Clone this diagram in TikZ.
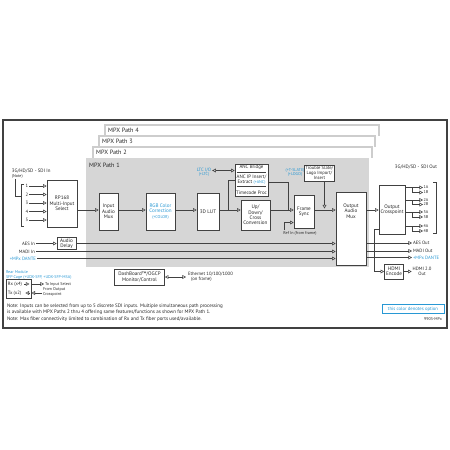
\documentclass[tikz,border=0pt]{standalone}
\usepackage{fontspec}
\setmainfont{PT Sans}
\usetikzlibrary{arrows.meta}
\usetikzlibrary{positioning}
\definecolor{Option}{RGB}{40,152,212}
\definecolor{Strich}{RGB}{65,65,65}
\definecolor{Pfad}{RGB}{214,214,214}
\definecolor{Reiter}{RGB}{205,205,205}
\newcommand\Groesse[2]{\fontsize{#1}{#2}\selectfont}
\tikzset{
  Spitze/.tip={Triangle[open,length=3.6pt,width=3.8pt]},
  Block/.style 2 args={draw=Strich, fill=white, line width=.65pt, inner sep=0pt,
    align=center, minimum width=#1pt, minimum height=#2pt, font=\Groesse{5.1}{5.4}},
  Pfeil/.style={draw=Strich, line width=.55pt, -Spitze}, % Signalpfeile
  DPfeil/.style={draw=Strich, line width=.55pt, Spitze-Spitze}, % beidseitig
  Leitung/.style={draw=Strich, line width=.55pt},
  Txt/.style={inner sep=.8pt, align=center, font=\Groesse{4.7}{5.2}},
  Opt/.style={Txt, text=Option}, % Optionen
  Klein/.style={font=\Groesse{4.1}{4.6}},
  Reiter/.style={draw=Reiter, line width=1.4pt},
  Titel/.style={inner sep=0pt, anchor=west, font=\Groesse{6.2}{7}}
}

\begin{document}
\begin{tikzpicture}[x=1pt, y=-1pt, text=black!85]
\useasboundingbox (0,0) rectangle (450,450);

%Rahmen
\draw[Strich, line width=1.4pt] (3,120) rectangle (447,328);

%MPX Pfade
\draw[Reiter] (105,136) |- (379,125) -- (379,136);
\draw[Reiter] (99,147) |- (375,136) -- (375,147);
\draw[Reiter] (93,158) |- (372,147) -- (372,158);
\fill[Pfad] (86,158) rectangle (369,267);
\node[Titel] (P4) at (108,130.5) {MPX Path 4};
\node[Titel] (P3) at (102,141.5) {MPX Path 3};
\node[Titel] (P2) at (96,152.5) {MPX Path 2};
\node[Titel] (P1) at (89,165) {MPX Path 1};

%Bloecke
\node[Block={30}{47}] (RP) at (62,203.5) {RP168\\Multi-Input\\Select};
\node[Block={19}{37}] (IM) at (108.5,211.5) {Input\\Audio\\Mux};
\node[Block={29}{37}, text=Option] (RGB) at (160.5,211.5) {RGB Color\\Correction\\{\Groesse{4.1}{5.2}(+COLOR)}};
\node[Block={22}{37}] (LUT) at (208,211.5) {3D LUT};
\node[Block={33}{32}] (ANC) at (251.5,180) {};
\node[Block={29}{30}] (UDC) at (255.5,215) {Up/\\Down/\\Cross\\Conversion};
\node[Block={20}{33}] (FS) at (304,211.5) {Frame\\Sync};
\node[Block={30}{16}, font=\Groesse{4.6}{5}] (TS) at (319.5,173) {Trouble Slate/\\Logo Import/\\Insert};
\node[Block={30}{73}] (OM) at (351,228.5) {};
\node[Block={26}{49}] (XP) at (392,209.5) {Output\\Crosspoint};
\node[Block={19}{15}] (HD) at (394,271.5) {HDMI\\Encode};
\node[Block={19}{12}] (AD) at (66.5,243.5) {Audio\\Delay};
\node[Block={50}{16}] (DB) at (139.5,277) {DashBoard™/OGCP\\Monitor/Control};
\node[Block={25}{19}, line width=.8pt] (SFPk) at (18.5,288.5) {};

%ANC Block
\draw[Leitung] ([xshift=2pt,yshift=-9pt]ANC.north west) -- ([xshift=-2pt,yshift=-9pt]ANC.north east);
\draw[Leitung] ([xshift=2pt,yshift=-23pt]ANC.north west) -- ([xshift=-2pt,yshift=-23pt]ANC.north east);
\node[Txt, font=\Groesse{4.9}{5.3}, below=.4pt of ANC.north] (ANCa) {ANC Bridge};
\node[Txt, font=\Groesse{4.9}{5.3}] (ANCb) at (ANC) {ANC IP Insert/\\Extract {\color{Option}\Groesse{4.1}{5.3}(+ANC)}};
\node[Txt, font=\Groesse{4.9}{5.3}, above=.4pt of ANC.south] (ANCc) {Timecode Proc};
\node[Txt, font=\Groesse{5.1}{5.4}, below=11pt of OM.north] (OMt) {Output\\Audio\\Mux};

%Texte
\node[Txt, anchor=west, align=left, font=\Groesse{4.9}{5.2}] (SDIi) at (11,173.5) {3G/HD/SD - SDI In\\{\Groesse{4.1}{4.6}(Note)}};
\node[Txt, font=\Groesse{4.9}{5.2}] (SDIo) at (416,167) {3G/HD/SD - SDI Out};
\node[Opt] (LTC) at (204,170.5) {LTC I/O};
\node[Opt, Klein, below=-1.5pt of LTC] (LTCo) {(+LTC)};
\node[Opt, Klein] (TSo) at (295,172.5) {(+T-SLATE)\\(+LOGO)};
\node[Txt, Klein] (Ref) at (300,233) {Ref In (from frame)};

%Eingaenge
\foreach \n/\y in {1/186,2/194.5,3/203,4/211.5,5/220}{
  \node[Txt] (in\n) at (27,\y) {\n};
  \draw[Pfeil] (in\n.east) -- (in\n.east -| RP.west);
}
\draw[Leitung] (24,184) -- (21,184) -- (21,226) -- (24,226);
\draw[Leitung] ([xshift=4pt]SDIi.south west) |- (21,196);

%Hauptpfad
\coordinate (Sig) at (0,210);
\coordinate (Abzw) at (228,210);
\coordinate (Zus) at (288,210);
\draw[Pfeil] (RP.east |- Sig) -- (IM.west |- Sig);
\draw[Pfeil] (IM.east |- Sig) -- (RGB.west |- Sig);
\draw[Pfeil] (RGB.east |- Sig) -- (LUT.west |- Sig);
\draw[Pfeil] (LUT.east |- Sig) -- (UDC.west |- Sig);
\draw[Leitung] (Abzw) |- (ANC.west);
\draw[DPfeil] (LTC.east) -- (LTC.east -| ANC.west);
\draw[Leitung] ([yshift=-2pt]ANC.east) -| (Zus);
\draw[Pfeil] (UDC.east |- Sig) -- (FS.west |- Sig);
\draw[Pfeil] ([xshift=2pt]Ref.north west) |- ([yshift=-11pt]FS.west);
\draw[Pfeil] (FS.east |- Sig) -- (OM.west |- Sig);
\draw[Pfeil, shorten >=1.5pt] ([xshift=5pt]TS.south) -- ([xshift=5pt]TS.south |- Sig);
\draw[Pfeil] (OM.east |- Sig) -- (XP.west |- Sig);

%Ausgaenge SDI
\foreach \p/\ya/\yb in {1/187.5/192.5,2/200/204.5,3/212/217,4/226/231}{
  \node[Txt, Klein, anchor=west, inner sep=.4pt] (o-\p-a) at (423,\ya) {\p A};
  \node[Txt, Klein, anchor=west, inner sep=.4pt] (o-\p-b) at (423,\yb) {\p B};
  \draw[Pfeil] (XP.east |- o-\p-a.west) -- (o-\p-a.west);
  \draw[Pfeil] ([xshift=7pt]XP.east |- o-\p-a.west) |- (o-\p-b.west);
}
\draw[Leitung] (433,182) -- (436,182) -- (436,233) -- (433,233);

%HDMI
\node[Txt] (HDo) at (422,271.5) {HDMI 2.0\\Out};
\draw[Pfeil] ([yshift=-19.5pt]XP.west) -- ++(-4,0) |- (HD.west);
\draw[Pfeil] (HD.east) -- (HDo.west);

%Audio
\node[Txt, anchor=east] (AESi) at (36,243.5) {AES In};
\node[Txt, anchor=east] (MADIi) at (36,251.5) {MADI In};
\node[Opt, anchor=east] (DANi) at (37,258.5) {+MPx DANTE};
\draw[Pfeil] (AESi.east) -- (AD.west);
\draw[Pfeil] (AD.east) -- (AD.east -| OM.west);
\draw[Pfeil] (MADIi.east) -- (MADIi.east -| OM.west);
\draw[Pfeil] (DANi.east) -- (DANi.east -| OM.west);
\node[Txt, anchor=west] (AESo) at (412,243) {AES Out};
\node[Txt, anchor=west] (MADIo) at (412,251) {MADI Out};
\node[Opt, anchor=west] (DANo) at (412,257.5) {+MPx DANTE};
\draw[Pfeil] (OM.east |- AESo.west) -- (AESo.west);
\draw[Pfeil] (OM.east |- MADIo.west) -- (MADIo.west);
\draw[Pfeil] (OM.east |- DANo.west) -- (DANo.west);

%Steuerung
\node[Txt, anchor=west, align=left] (Eth) at (187,276.5) {Ethernet 10/100/1000\\\hspace{3pt}(on frame)};
\draw[DPfeil, shorten >=1pt] (DB.east) -- (DB.east -| Eth.west);

%Rear Module
\node[Opt, Klein, anchor=west] (RM) at (5,272.5) {Rear Module};
\node[Opt, Klein, anchor=west] (SFP) at (5,277) {SFP Cage (+UDX-SFP, +UDX-SFP-MSA)};
\node[Txt, anchor=west] (Rx) at (7,284) {Rx (x4)};
\node[Txt, anchor=west] (Tx) at (7,293) {Tx (x2)};
\node[Txt, Klein, anchor=west] (ToIn) at (44,284) {To Input Select};
\node[Txt, Klein, anchor=west, align=left] (FromXP) at (42,292) {From Output\\Crosspoint};
\draw[Pfeil] ([xshift=-7pt]SFPk.east |- Rx.east) -- ([xshift=-2pt]SFPk.east |- Rx.east);
\draw[Pfeil] (SFPk.east |- Rx.east) -- (ToIn.west);
\draw[Pfeil] ([xshift=-1.5pt]SFPk.east |- Tx.east) -- ([xshift=-6pt]SFPk.east |- Tx.east);
\draw[Pfeil] (FromXP.west |- Tx.east) -- (SFPk.east |- Tx.east);

%Hinweise
\node[Txt, anchor=west, align=left, font=\Groesse{5}{6.6}] (N1) at (6,309.3) {Note: Inputs can be selected from up to 5 discrete SDI inputs. Multiple simultaneous path processing\\is available with MPX Paths 2 thru 4 offering same features/functions as shown for MPX Path 1.};
\node[Txt, anchor=west, font=\Groesse{5}{5.2}] (N2) at (6,319.3) {Note: Max fiber connectivity limited to combination of Rx and Tx fiber ports used/available.};
\node[draw=Option, line width=.8pt, text=Option, inner sep=0pt, minimum width=62pt, minimum height=9.5pt, font=\Groesse{4.7}{5}] (Leg) at (413,309) {this color denotes option};
\node[Txt, Klein] (Nr) at (433,319.5) {9905-MPx};

\end{tikzpicture}
\end{document}
